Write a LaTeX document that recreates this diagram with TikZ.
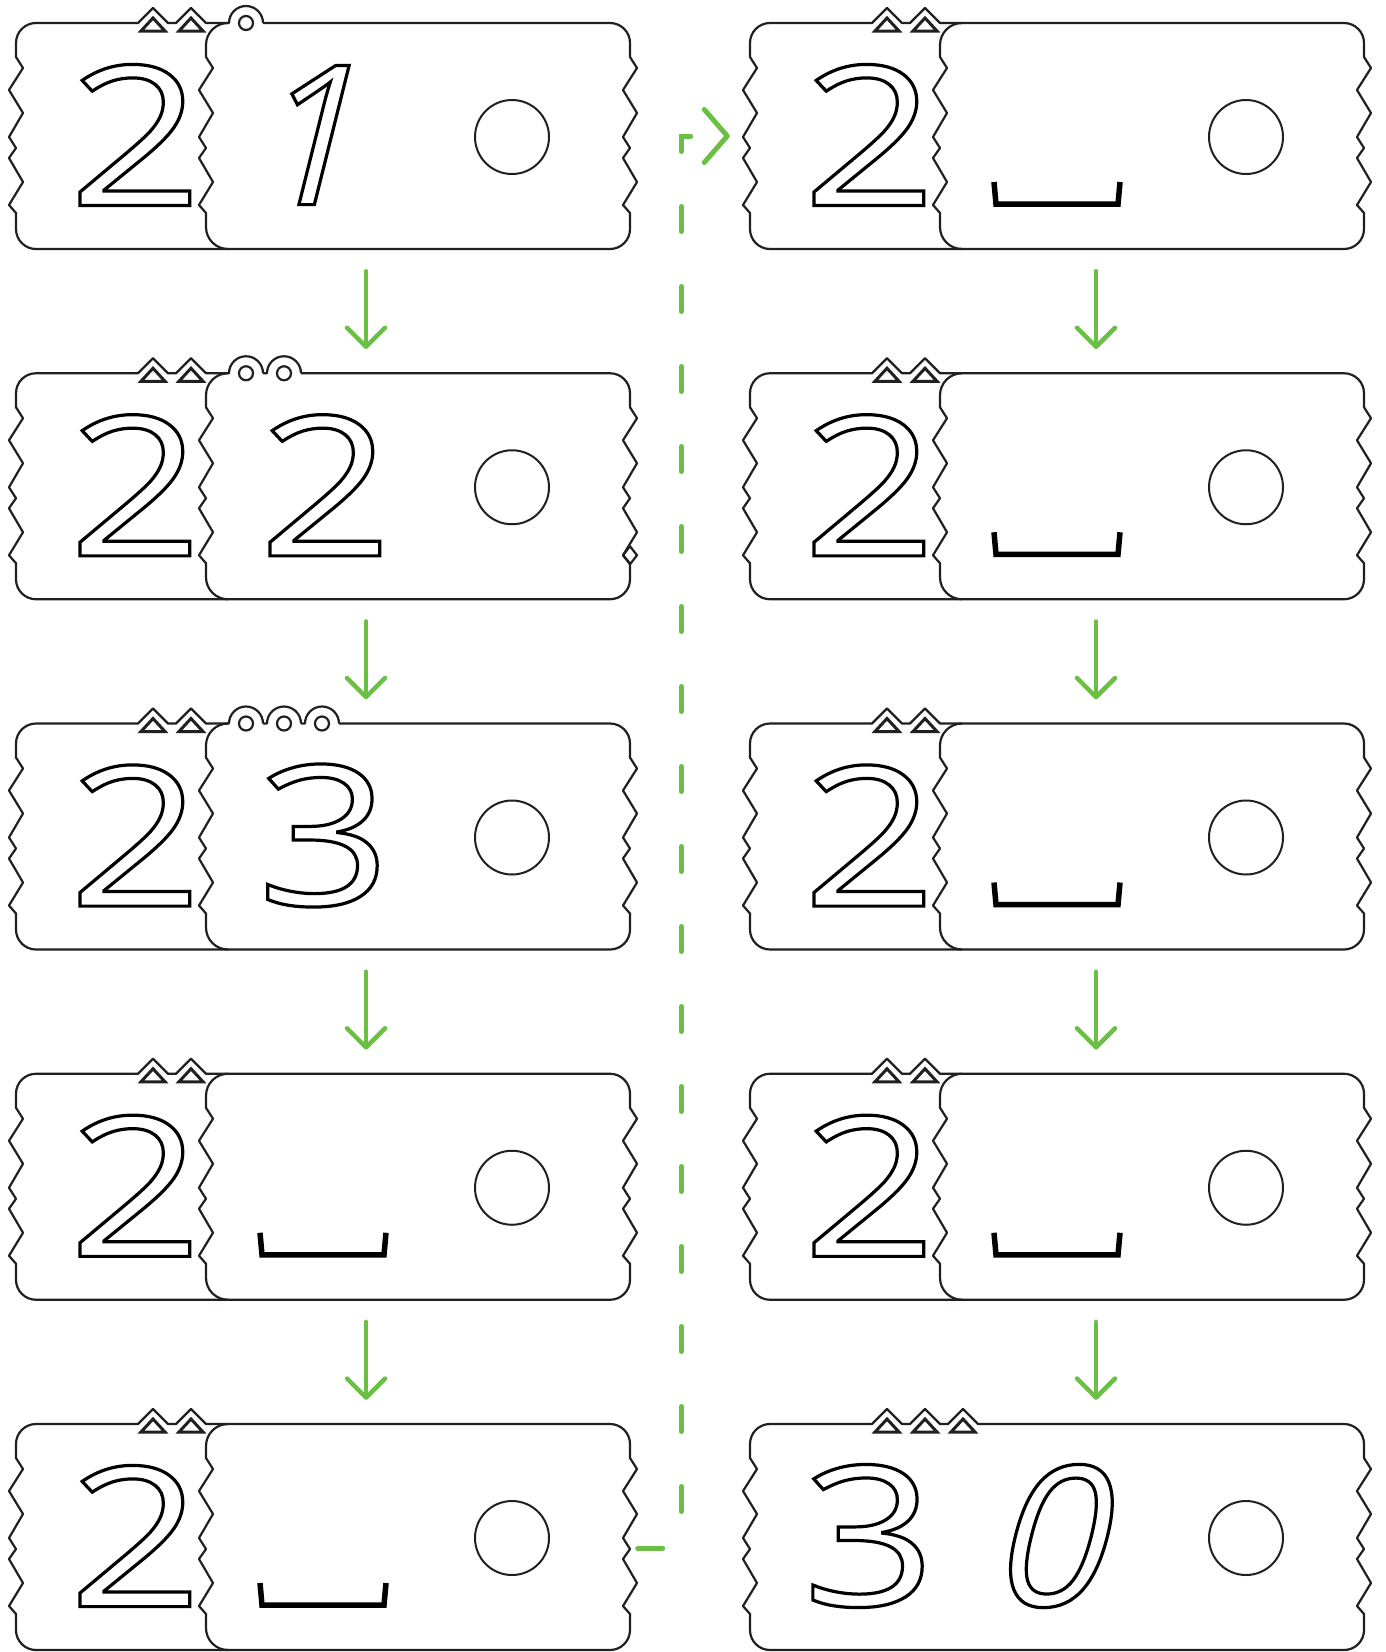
\documentclass[tikz,border=0pt]{standalone}
\usepackage{fontspec}
\setmainfont{Open Sans}
\newfontfamily\digitfont[FakeStretch=1.2]{Open Sans}
\newfontfamily\slantfont[FakeSlant=0.25]{Open Sans}
\usetikzlibrary{arrows.meta}
\definecolor{ink}{HTML}{231F20}
\definecolor{flowgreen}{HTML}{6CBF45}
\tikzset{
  cardline/.style={draw=ink, line width=2.2pt, line join=round},
  tri/.style={draw=ink, line width=3pt},
  ringline/.style={draw=ink, line width=2pt},
  blank/.style={draw=black, line width=5.5pt},
  cardbox/.style={minimum width=614pt, minimum height=226pt, inner sep=0pt},
  digit/.style={inner sep=0pt, font=\digitfont\fontsize{195}{195}\selectfont,
    execute at begin node={\special{pdf:literal direct 1 Tr 3.2 w}},
    execute at end node={\special{pdf:literal direct 0 Tr}}},
  slantdigit/.style={digit, font=\slantfont\fontsize{195}{195}\selectfont},
  flow/.style={draw=flowgreen, line width=4.5pt, line cap=round, shorten <=22pt, shorten >=24pt,
    -{Straight Barb[length=19pt, width=38pt, round]}},
  link/.style={draw=flowgreen, line width=5pt, line cap=round, dash pattern=on 25pt off 55pt,
    shorten <=7.5pt, shorten >=20pt, -{Straight Barb[length=23pt, width=53pt, round]}},
  zig down/.style={insert path={-- ++(7,11) -- ++(-14,22) -- ++(14,23) -- ++(-14,24) -- ++(7,11)
    -- ++(-7,10) -- ++(14,24) -- ++(-14,23) -- ++(7,8)}},
  zig up/.style={insert path={-- ++(-7,-8) -- ++(14,-23) -- ++(-14,-24) -- ++(7,-10) -- ++(-7,-11)
    -- ++(14,-24) -- ++(-14,-23) -- ++(14,-22) -- ++(-7,-11)}},
}
\newcommand\ringbump[1]{-- (\cardL+#1-17,\cardT) arc[start angle=180, end angle=360, radius=17]
  (\cardL+#1,\cardT) circle[radius=7] (\cardL+#1+17,\cardT)}
\newcommand\card[5]{%
  \def\cardL{#1}\def\cardT{#2}%
  \node[cardbox] (#5) at (#1+307,#2+113) {};
  \draw[cardline] (#1,#2+20) arc[start angle=180, end angle=270, radius=20]
    \foreach \p in {#3} { -- (#1+\p-15,#2) -- (#1+\p,#2-15) -- (#1+\p+15,#2) }
    #4 -- (#1+594,#2) arc[start angle=270, end angle=360, radius=20]
    -- (#1+614,#2+34) [zig down] -- (#1+614,#2+206) arc[start angle=0, end angle=90, radius=20]
    -- (#1+20,#2+226) arc[start angle=90, end angle=180, radius=20]
    -- (#1,#2+190) [zig up] -- (#1,#2+20);
  \foreach \p in {#3}
    \draw[tri] (#1+\p,#2-5) -- (#1+\p-12,#2+8) -- (#1+\p+12,#2+8) -- cycle;
  \draw[ringline] (#1+496,#2+114) circle[radius=37];
}
\newcommand\divider[2]{%
  \draw[cardline] (#1+212,#2) arc[start angle=270, end angle=180, radius=22]
    -- (#1+190,#2+34) [zig down] -- (#1+190,#2+204) arc[start angle=180, end angle=90, radius=22];
}
\newcommand\blankbox[2]{%
  \draw[blank] (#1+244,#2+159) -- (#1+246,#2+181) -- (#1+368,#2+181) -- (#1+370,#2+159);
}
\begin{document}
\begin{tikzpicture}[x=1pt, y=-1pt]
\fill[white] (0,0) rectangle (1386,1652);
\useasboundingbox (0,0) rectangle (1386,1652);

\card{16}{23}{137,175}{\ringbump{230}}{l1}
\card{16}{373.25}{137,175}{\ringbump{230}\ringbump{268}}{l2}
\card{16}{723.5}{137,175}{\ringbump{230}\ringbump{268}\ringbump{306}}{l3}
\card{16}{1073.75}{137,175}{}{l4}
\card{16}{1424}{137,175}{}{l5}
\card{750}{23}{137,175}{}{r1}
\card{750}{373.25}{137,175}{}{r2}
\card{750}{723.5}{137,175}{}{r3}
\card{750}{1073.75}{137,175}{}{r4}
\card{750}{1424}{137,175,213}{}{r5}

\foreach \t in {23,373.25,723.5,1073.75,1424} {\divider{16}{\t}}
\foreach \t in {23,373.25,723.5,1073.75} {\divider{750}{\t}}
\draw[cardline] (623,555.25) -- (630,546.25) -- (637,555.25) -- (630,564.25) -- cycle;

\blankbox{16}{1073.75}
\blankbox{16}{1424}
\foreach \t in {23,373.25,723.5,1073.75} {\blankbox{750}{\t}}

\node[digit] (l1a) at (135.5,135) {2};
\node[slantdigit] (l1b) at (302,135) {1};
\node[digit] (l2a) at (135.5,485.25) {2};
\node[digit] (l2b) at (325.5,485.25) {2};
\node[digit] (l3a) at (135.5,835.5) {2};
\node[digit] (l3b) at (324,835.5) {3};
\node[digit] (l4a) at (135.5,1185.75) {2};
\node[digit] (l5a) at (135.5,1536) {2};
\node[digit] (r1a) at (869.5,135) {2};
\node[digit] (r2a) at (869.5,485.25) {2};
\node[digit] (r3a) at (869.5,835.5) {2};
\node[digit] (r4a) at (869.5,1185.75) {2};
\node[digit] (r5a) at (869,1536) {3};
\node[slantdigit] (r5b) at (1044,1536) {0};

\foreach \a/\b in {l1/l2,l2/l3,l3/l4,l4/l5}
  \draw[flow] ([xshift=43pt]\a.south) -- ([xshift=43pt]\b.north);
\foreach \a/\b in {r1/r2,r2/r3,r3/r4,r4/r5}
  \draw[flow] ([xshift=39pt]\a.south) -- ([xshift=39pt]\b.north);
\draw[link] ([yshift=-11pt]l5.east) -- ++(51,0) |- (r1.west);
\end{tikzpicture}
\end{document}
